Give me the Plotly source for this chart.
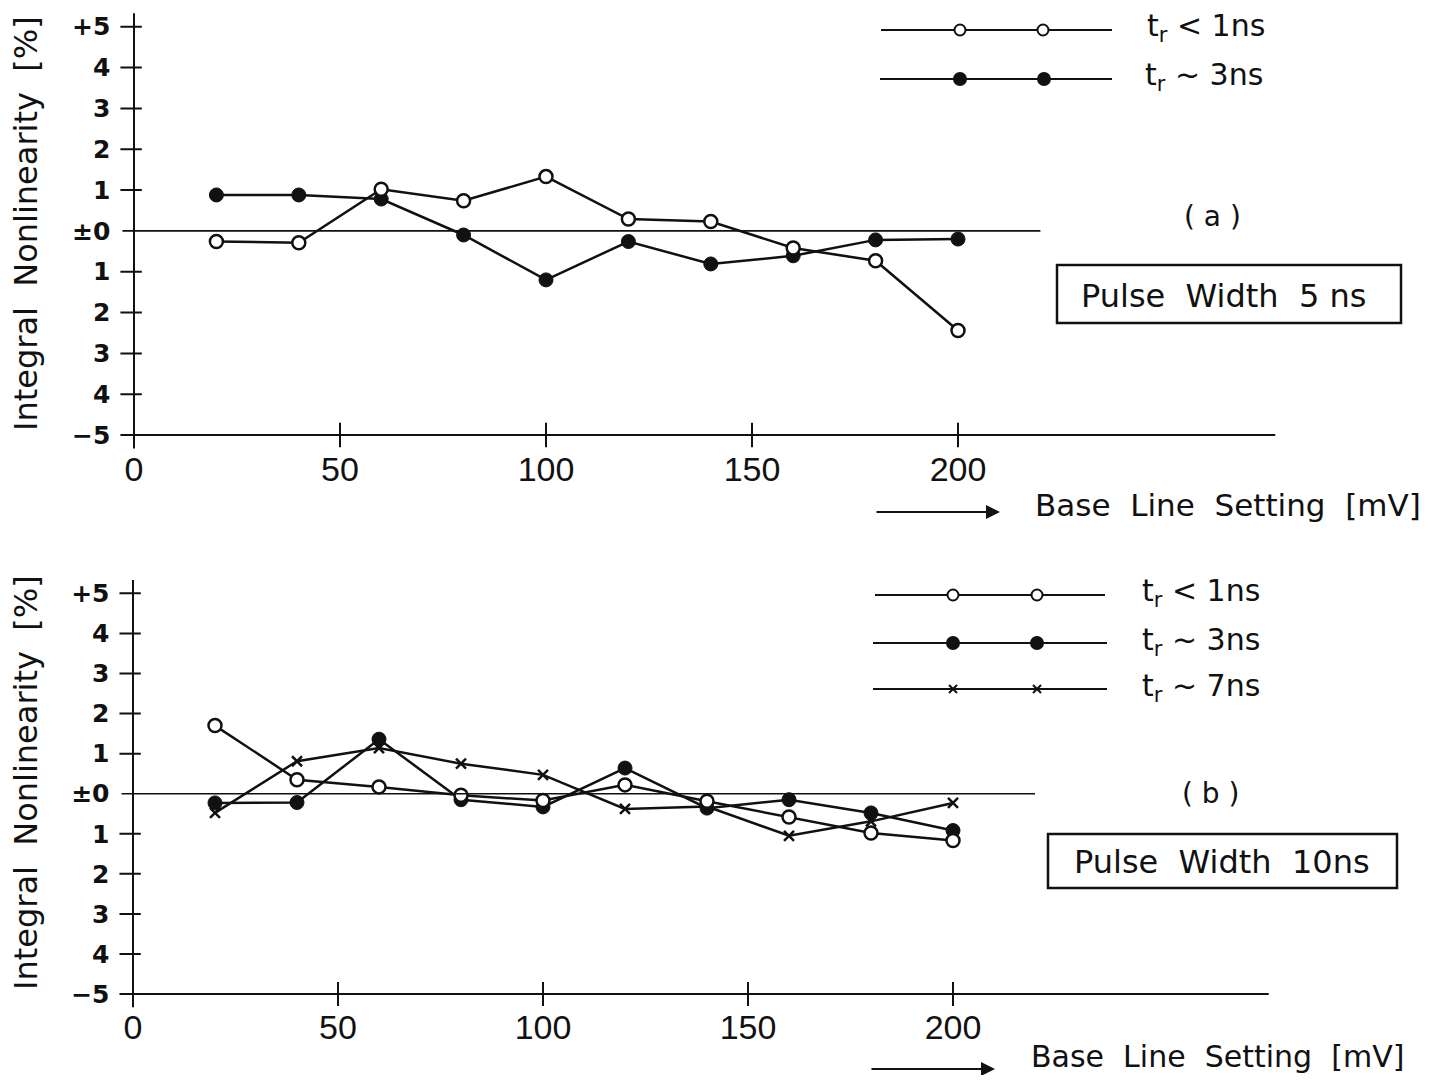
import plotly.graph_objects as go

# ---------------- data ----------------
base_mv = [20, 40, 60, 80, 100, 120, 140, 160, 180, 200]

# (a) Pulse width 5 ns
a_tr_lt1 = [-0.26, -0.29, 1.02, 0.74, 1.33, 0.29, 0.23, -0.42, -0.73, -2.44]
a_tr_3 = [0.88, 0.88, 0.78, -0.10, -1.20, -0.26, -0.81, -0.61, -0.22, -0.20]

# (b) Pulse width 10 ns
b_tr_lt1 = [1.70, 0.35, 0.17, -0.04, -0.17, 0.22, -0.19, -0.58, -0.98, -1.17]
b_tr_3 = [-0.23, -0.22, 1.36, -0.15, -0.33, 0.64, -0.36, -0.15, -0.48, -0.92]
b_tr_7 = [-0.48, 0.81, 1.14, 0.75, 0.47, -0.38, -0.32, -1.05, -0.69, -0.23]

x_tickvals = [0, 50, 100, 150, 200]
x_ticktext = ["0", "50", "100", "150", "200"]
y_tickvals = [-5, -4, -3, -2, -1, 0, 1, 2, 3, 4, 5]
y_ticktext = ["\u22125", "4", "3", "2", "1", "\u00b10", "1", "2", "3", "4", "+5"]

# ---------------- layout helpers ----------------
PAGE_W, PAGE_H = 1445, 1083
OFF = 8  # default body margin of the html page
W, H = PAGE_W - 2 * OFF, PAGE_H - 2 * OFF
XR = [-5, 282]
YR = [-5.36, 5.4]


def px(x):
    return (x - OFF) / W


def py(y):
    return 1 - (y - OFF) / H


def clamp(v):
    return max(0.0, min(1.0, v))


def xdom(x0px, pxper):
    return [clamp(px(x0px + XR[0] * pxper)), clamp(px(x0px + XR[1] * pxper))]


def ydom(y0px, pxper):
    top = y0px - YR[1] * pxper
    bot = y0px - YR[0] * pxper
    return [clamp(py(bot)), clamp(py(top))]


FONT = "DejaVu Sans"
BLACK = "#111111"

fig = go.Figure()

open_marker = dict(symbol="circle", size=13, color="white", line=dict(color=BLACK, width=2.5))
fill_marker = dict(symbol="circle", size=14, color=BLACK, line=dict(color=BLACK, width=1))
cross_marker = dict(symbol="x-thin", size=10, color=BLACK, line=dict(color=BLACK, width=2.5))
line_style = dict(color=BLACK, width=2.5)

# top panel traces
fig.add_trace(go.Scatter(x=base_mv, y=a_tr_3, mode="lines+markers", line=line_style,
                         marker=fill_marker, xaxis="x", yaxis="y", showlegend=False))
fig.add_trace(go.Scatter(x=base_mv, y=a_tr_lt1, mode="lines+markers", line=line_style,
                         marker=open_marker, xaxis="x", yaxis="y", showlegend=False))
# bottom panel traces
fig.add_trace(go.Scatter(x=base_mv, y=b_tr_7, mode="lines+markers", line=line_style,
                         marker=cross_marker, xaxis="x2", yaxis="y2", showlegend=False))
fig.add_trace(go.Scatter(x=base_mv, y=b_tr_3, mode="lines+markers", line=line_style,
                         marker=fill_marker, xaxis="x2", yaxis="y2", showlegend=False))
fig.add_trace(go.Scatter(x=base_mv, y=b_tr_lt1, mode="lines+markers", line=line_style,
                         marker=open_marker, xaxis="x2", yaxis="y2", showlegend=False))

# ---------------- legend keys (pixel overlay axis) ----------------
legend_rows = [
    # (x_start, x_end, y, marker xs, marker)
    (881, 1112, 30, [960, 1043], open_marker),
    (880, 1112, 79, [960, 1044], fill_marker),
    (875, 1105, 595, [953, 1037], open_marker),
    (873, 1107, 643, [953, 1037], fill_marker),
    (873, 1107, 689, [953, 1037], cross_marker),
]
for xs, xe, yy, mx, mk in legend_rows:
    fig.add_trace(go.Scatter(x=[xs, xe], y=[yy, yy], mode="lines",
                             line=dict(color=BLACK, width=2), xaxis="x3", yaxis="y3",
                             showlegend=False, hoverinfo="skip"))
    small = dict(mk)
    small["size"] = mk["size"] - 2 if mk["symbol"] != "x-thin" else 8
    small["line"] = dict(mk["line"], width=2)
    fig.add_trace(go.Scatter(x=mx, y=[yy] * len(mx), mode="markers", marker=small,
                             xaxis="x3", yaxis="y3", showlegend=False, hoverinfo="skip"))

legend_texts = [
    (1145, 28, "t<sub>r</sub> &lt; 1ns"),
    (1143, 77, "t<sub>r</sub> ~ 3ns"),
    (1140, 592, "t<sub>r</sub> &lt; 1ns"),
    (1140, 641, "t<sub>r</sub> ~ 3ns"),
    (1140, 687, "t<sub>r</sub> ~ 7ns"),
]

# ---------------- axes ----------------
top_x0, top_xp = 134, 4.12
top_y0, top_yp = 230.9, 40.83
bot_x0, bot_xp = 133, 4.10
bot_y0, bot_yp = 793.7, 40.07

common_x = dict(range=XR, showgrid=False, zeroline=False, showline=False, ticks="",
                tickvals=x_tickvals, ticktext=x_ticktext,
                tickfont=dict(family="Liberation Sans", size=34, color=BLACK),
                ticklabelstandoff=-4, fixedrange=True)
common_y = dict(range=YR, showgrid=False, zeroline=False, showline=False, ticks="",
                tickvals=y_tickvals, ticktext=y_ticktext,
                tickfont=dict(family=FONT, size=25, color=BLACK, weight="bold"),
                ticklabelstandoff=2, fixedrange=True)

fig.update_layout(
    xaxis=dict(domain=xdom(top_x0, top_xp), anchor="y", **common_x),
    yaxis=dict(domain=ydom(top_y0, top_yp), anchor="x", **common_y),
    xaxis2=dict(domain=xdom(bot_x0, bot_xp), anchor="y2", **common_x),
    yaxis2=dict(domain=ydom(bot_y0, bot_yp), anchor="x2", **common_y),
    xaxis3=dict(domain=[0, 1], range=[OFF, OFF + W], visible=False, anchor="y3", fixedrange=True),
    yaxis3=dict(domain=[0, 1], range=[OFF + H, OFF], visible=False, anchor="x3", fixedrange=True),
)

shapes = []
for xa, ya in (("x", "y"), ("x2", "y2")):
    ln = dict(color=BLACK, width=2)
    # y axis line
    shapes.append(dict(type="line", xref=xa, yref=ya, x0=0, x1=0, y0=-5.33, y1=5.33, line=ln))
    # x axis line at -5
    shapes.append(dict(type="line", xref=xa, yref=ya, x0=-1.7, x1=277, y0=-5, y1=-5, line=ln))
    # zero reference line
    shapes.append(dict(type="line", xref=xa, yref=ya, x0=-2.8, x1=220, y0=0, y1=0,
                       line=dict(color=BLACK, width=1.6)))
    # y ticks crossing the axis
    for v in y_tickvals:
        if v == 0:
            continue
        shapes.append(dict(type="line", xref=xa, yref=ya, x0=-3.3, x1=1.9, y0=v, y1=v, line=ln))
    # x ticks
    for v in x_tickvals[1:]:
        shapes.append(dict(type="line", xref=xa, yref=ya, x0=v, x1=v, y0=-5.3, y1=-4.7, line=ln))

# boxes
shapes.append(dict(type="rect", xref="paper", yref="paper", x0=px(1057), x1=px(1401),
                   y0=py(323), y1=py(265), line=dict(color=BLACK, width=2.5)))
shapes.append(dict(type="rect", xref="paper", yref="paper", x0=px(1048), x1=px(1397),
                   y0=py(888), y1=py(834), line=dict(color=BLACK, width=2.5)))

annotations = []
for xx, yy, t in legend_texts:
    annotations.append(dict(x=px(xx), y=py(yy), xref="paper", yref="paper", text=t,
                            showarrow=False, xanchor="left", yanchor="middle",
                            font=dict(family=FONT, size=30, color=BLACK)))

# y titles
for ycen in (224, 783):
    annotations.append(dict(x=px(26), y=py(ycen), xref="paper", yref="paper",
                            text="Integral  Nonlinearity  [%]", textangle=-90,
                            showarrow=False, xanchor="center", yanchor="middle",
                            font=dict(family=FONT, size=32, color=BLACK)))

# x titles with arrows
for (ax0, ax1, ay), (tx, ty, fs) in (((875, 1000, 512), (1033, 505, 31)),
                                     ((870, 995, 1069), (1029, 1056, 30))):
    annotations.append(dict(x=px(ax1), y=py(ay), xref="paper", yref="paper", text="",
                            showarrow=True, ax=-(ax1 - ax0), ay=0, arrowhead=2,
                            arrowsize=1.4, arrowwidth=2, arrowcolor=BLACK))
    annotations.append(dict(x=px(tx), y=py(ty), xref="paper", yref="paper",
                            text="Base  Line  Setting  [mV]", showarrow=False,
                            xanchor="left", yanchor="middle",
                            font=dict(family=FONT, size=fs, color=BLACK)))

# panel labels
annotations.append(dict(x=px(1212), y=py(217), xref="paper", yref="paper", text="( a )",
                        showarrow=False, xanchor="center", yanchor="middle",
                        font=dict(family=FONT, size=28, color=BLACK)))
annotations.append(dict(x=px(1210), y=py(793), xref="paper", yref="paper", text="( b )",
                        showarrow=False, xanchor="center", yanchor="middle",
                        font=dict(family=FONT, size=28, color=BLACK)))
# box texts
annotations.append(dict(x=px(1223), y=py(296), xref="paper", yref="paper",
                        text="Pulse  Width  5 ns", showarrow=False,
                        xanchor="center", yanchor="middle",
                        font=dict(family=FONT, size=32, color=BLACK)))
annotations.append(dict(x=px(1222), y=py(862), xref="paper", yref="paper",
                        text="Pulse  Width  10ns", showarrow=False,
                        xanchor="center", yanchor="middle",
                        font=dict(family=FONT, size=32, color=BLACK)))

fig.update_layout(
    width=W, height=H, autosize=False,
    margin=dict(l=0, r=0, t=0, b=0),
    paper_bgcolor="white", plot_bgcolor="rgba(0,0,0,0)",
    shapes=shapes, annotations=annotations, showlegend=False,
)

fig.write_html("out.html")
